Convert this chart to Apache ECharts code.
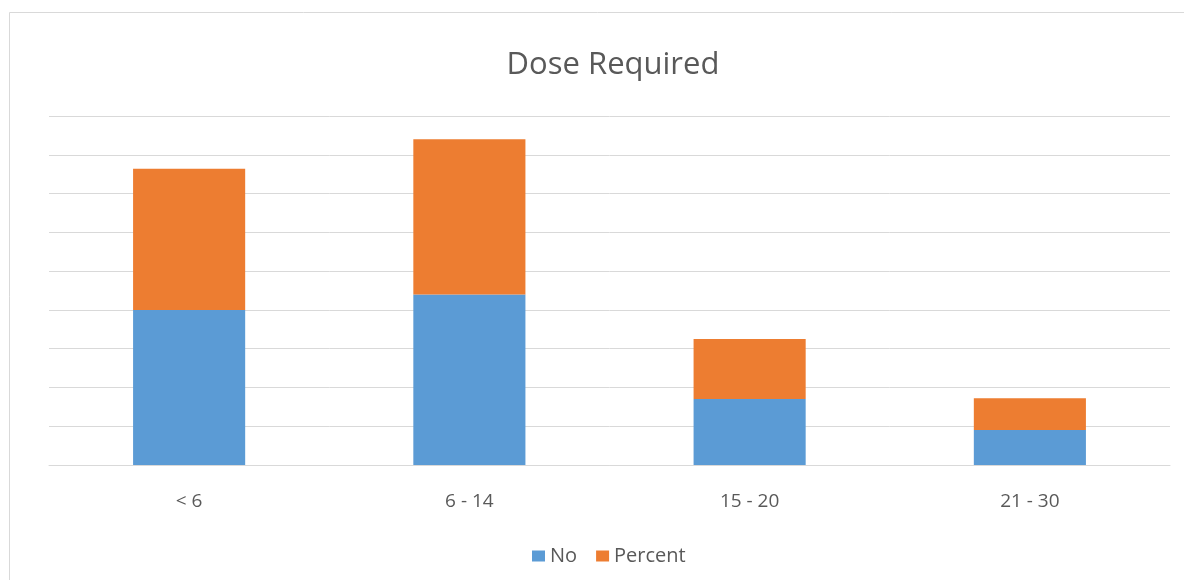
<!DOCTYPE html>
<html>
<head>
<meta charset="utf-8">
<script src="https://cdn.jsdelivr.net/npm/echarts@6/dist/echarts.min.js"></script>
<style>
html,body{margin:0;padding:0;background:#fff;}
#chart{width:1184px;height:580px;}
</style>
</head>
<body>
<div id="chart"></div>
<script>
const categories = ['< 6', '6 - 14', '15 - 20', '21 - 30'];
const noValues = [40, 44, 17, 9];
const percentValues = [36.4, 40, 15.5, 8.2];

const chart = echarts.init(document.getElementById('chart'));
const font = '"Open Sans", "Noto Sans", sans-serif';
chart.setOption({
  animation: false,
  backgroundColor: '#ffffff',
  title: {
    text: 'Dose Required',
    left: 608,
    textAlign: 'center',
    top: 45,
    textStyle: { fontFamily: font, fontSize: 31, fontWeight: 'normal', color: '#595959' }
  },
  graphic: [{
    type: 'rect',
    shape: { x: 9.5, y: 12.5, width: 1200, height: 600 },
    style: { fill: 'none', stroke: '#d9d9d9', lineWidth: 1 },
    silent: true
  }],
  legend: {
    top: 541,
    left: 527,
    itemWidth: 13,
    itemHeight: 11,
    itemGap: 19,
    icon: 'rect',
    textStyle: { fontFamily: font, fontSize: 20, color: '#595959' },
    data: ['No', 'Percent']
  },
  grid: { left: 49, right: 14, top: 116, bottom: 115 },
  xAxis: {
    type: 'category',
    data: categories,
    axisTick: { show: false },
    axisLine: { lineStyle: { color: '#d9d9d9', width: 1 } },
    axisLabel: { margin: 27, fontFamily: font, fontSize: 19, color: '#595959' }
  },
  yAxis: {
    type: 'value',
    min: 0,
    max: 90,
    interval: 10,
    axisLabel: { show: false },
    axisLine: { show: false },
    axisTick: { show: false },
    splitLine: { lineStyle: { color: '#d9d9d9', width: 1 } }
  },
  series: [
    { name: 'No', type: 'bar', stack: 'total', barWidth: '40%', data: noValues, itemStyle: { color: '#5b9bd5' } },
    { name: 'Percent', type: 'bar', stack: 'total', barWidth: '40%', data: percentValues, itemStyle: { color: '#ed7d31' } }
  ]
});
</script>
</body>
</html>
